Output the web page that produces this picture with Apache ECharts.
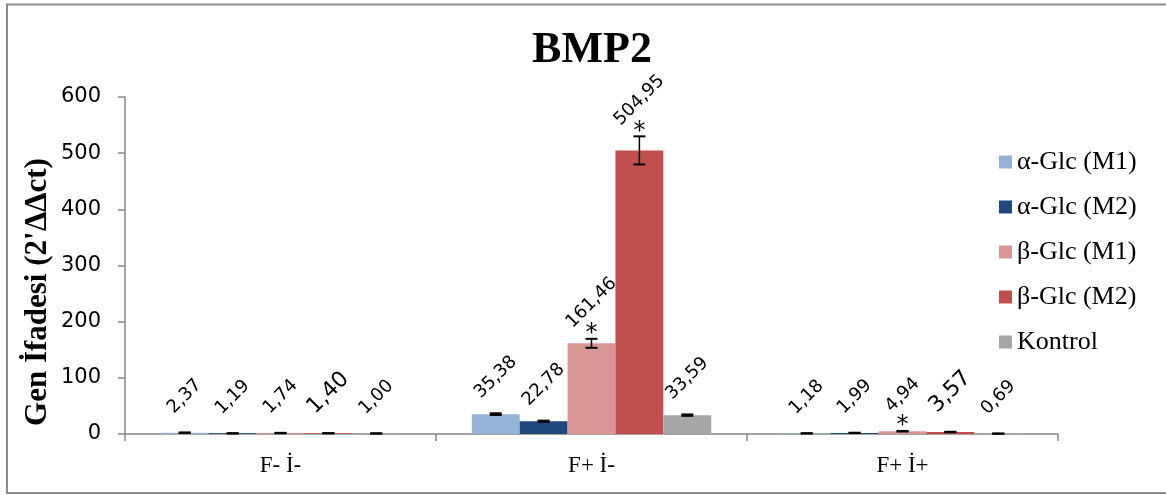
<!DOCTYPE html>
<html>
<head>
<meta charset="utf-8">
<script src="https://cdn.jsdelivr.net/npm/echarts@6/dist/echarts.min.js"></script>
<style>
  html, body { margin: 0; padding: 0; background: #fff; }
  #chart { width: 1166px; height: 495px; }
</style>
</head>
<body>
<div id="chart"></div>
<script>
// BMP2 relative gene expression, grouped by treatment condition
const categories = ['F- İ-', 'F+ İ-', 'F+ İ+'];
const seriesNames = ['α-Glc (M1)', 'α-Glc (M2)', 'β-Glc (M1)', 'β-Glc (M2)', 'Kontrol'];
const seriesColors = ['#95B3D7', '#1F497D', '#D99694', '#C0504D', '#A6A6A6'];

const alphaM1 = [2.37, 35.38, 1.18];
const alphaM2 = [1.19, 22.78, 1.99];
const betaM1  = [1.74, 161.46, 4.94];
const betaM2  = [1.40, 504.95, 3.57];
const kontrol = [1.00, 33.59, 0.69];

// standard error for each bar
const alphaM1Err = [0.3, 1.5, 0.1];
const alphaM2Err = [0.2, 1.0, 0.3];
const betaM1Err  = [0.3, 8.0, 0.5];
const betaM2Err  = [0.3, 25.0, 0.4];
const kontrolErr = [0.1, 1.2, 0.1];

// significance markers (*)
const alphaM1Sig = [false, false, false];
const alphaM2Sig = [false, false, false];
const betaM1Sig  = [false, true, true];
const betaM2Sig  = [false, true, false];
const kontrolSig = [false, false, false];

// a few value labels are set in a larger size
const alphaM1Big = [false, false, false];
const alphaM2Big = [false, false, false];
const betaM1Big  = [false, false, false];
const betaM2Big  = [true, false, true];
const kontrolBig = [false, false, false];

const yMin = 0, yMax = 600, yStep = 100;

const values = [alphaM1, alphaM2, betaM1, betaM2, kontrol];
const errors = [alphaM1Err, alphaM2Err, betaM1Err, betaM2Err, kontrolErr];
const sigs = [alphaM1Sig, alphaM2Sig, betaM1Sig, betaM2Sig, kontrolSig];
const bigs = [alphaM1Big, alphaM2Big, betaM1Big, betaM2Big, kontrolBig];

const CAT_GAP = 0.23;
const N = seriesNames.length;

const fmt = v => v.toFixed(2).replace('.', ',');

// overlay rows: [category, value, error, seriesIndex, significant, big]
const overlay = [];
values.forEach((arr, s) => arr.forEach((v, c) => {
  overlay.push([c, v, errors[s][c], s, sigs[s][c] ? 1 : 0, bigs[s][c] ? 1 : 0]);
}));

const barSeries = seriesNames.map((name, s) => ({
  name: name,
  type: 'bar',
  data: values[s],
  barGap: '0%',
  barCategoryGap: (CAT_GAP * 100) + '%',
  itemStyle: { color: seriesColors[s] },
  emphasis: { disabled: true }
}));

function renderOverlay(params, api) {
  const c = api.value(0), v = api.value(1), e = api.value(2), s = api.value(3);
  const sig = api.value(4), big = api.value(5);
  const center = api.coord([c, v]);
  const band = api.size([1, 0])[0];
  const barW = band * (1 - CAT_GAP) / N;
  const x = center[0] + (s - (N - 1) / 2) * barW;
  const yTop = api.coord([c, v + e])[1];
  const yBot = api.coord([c, Math.max(0, v - e)])[1];
  const cap = 6;
  const children = [
    { type: 'line', shape: { x1: x, y1: yTop, x2: x, y2: yBot }, style: { stroke: '#000', lineWidth: 1.5 } },
    { type: 'line', shape: { x1: x - cap, y1: yTop, x2: x + cap, y2: yTop }, style: { stroke: '#000', lineWidth: 2 } },
    { type: 'line', shape: { x1: x - cap, y1: yBot, x2: x + cap, y2: yBot }, style: { stroke: '#000', lineWidth: 2 } }
  ];
  if (sig) {
    children.push({
      type: 'text', x: x, y: yTop - 5,
      style: { text: '*', font: '24px "DejaVu Sans"', fill: '#000', align: 'center', verticalAlign: 'middle' }
    });
  }
  const lift = big ? 40 : 36;
  children.push({
    type: 'text', x: x, y: yTop - lift, rotation: Math.PI / 4,
    style: {
      text: fmt(values[s][c]),
      font: (big ? '22px' : '18px') + ' "DejaVu Sans"',
      fill: '#000', align: 'center', verticalAlign: 'middle'
    }
  });
  return { type: 'group', children: children };
}

const chart = echarts.init(document.getElementById('chart'), null, { renderer: 'canvas' });

chart.setOption({
  animation: false,
  backgroundColor: '#fff',
  title: {
    text: 'BMP2',
    left: 587,
    top: 24,
    textAlign: 'center',
    textStyle: { fontFamily: '"Liberation Serif"', fontWeight: 'bold', fontSize: 44, color: '#000' }
  },
  legend: {
    data: seriesNames,
    orient: 'vertical',
    left: 999,
    top: 149,
    padding: 0,
    itemWidth: 13,
    itemHeight: 13,
    itemGap: 19,
    icon: 'rect',
    textStyle: { fontFamily: '"Liberation Serif"', fontSize: 26, lineHeight: 26, color: '#000' }
  },
  grid: { left: 125, right: 108, top: 97, bottom: 61, containLabel: false },
  xAxis: {
    type: 'category',
    data: categories,
    axisLine: { lineStyle: { color: '#868686', width: 1.5 } },
    axisTick: { show: true, length: 7, lineStyle: { color: '#868686', width: 1.5 } },
    axisLabel: { margin: 20, fontFamily: '"Liberation Serif"', fontSize: 23, color: '#000' },
    splitLine: { show: false }
  },
  yAxis: {
    type: 'value',
    min: yMin, max: yMax, interval: yStep,
    axisLine: { show: true, lineStyle: { color: '#868686', width: 1.5 } },
    axisTick: { show: true, length: 7, lineStyle: { color: '#868686', width: 1.5 } },
    axisLabel: { margin: 24, fontFamily: '"DejaVu Sans"', fontSize: 21, color: '#000' },
    splitLine: { show: false }
  },
  graphic: [
    {
      type: 'rect', silent: true,
      shape: { x: 7, y: 4.5, width: 1200, height: 488.5 },
      style: { fill: 'none', stroke: '#8c8c8c', lineWidth: 2 }
    },
    {
      type: 'text', silent: true,
      x: 38, y: 292, rotation: Math.PI / 2,
      style: {
        text: "Gen İfadesi (2'ΔΔct)",
        font: 'bold 31px "Liberation Serif"',
        fill: '#000', align: 'center', verticalAlign: 'middle'
      }
    }
  ],
  series: barSeries.concat([{
    type: 'custom',
    name: 'overlay',
    renderItem: renderOverlay,
    data: overlay,
    z: 10,
    clip: false,
    silent: true
  }])
});
</script>
</body>
</html>
